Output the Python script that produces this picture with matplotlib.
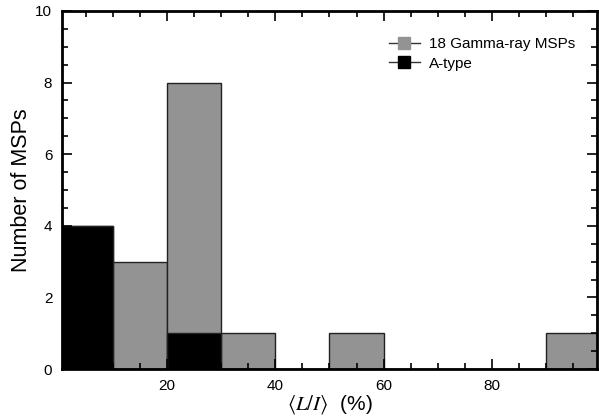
import matplotlib
matplotlib.use('Agg')
import matplotlib.pyplot as plt
from matplotlib.lines import Line2D
from matplotlib.ticker import MultipleLocator

# histogram data (bins of width 10 in <L/I> %)
bin_left = [0, 10, 20, 30, 40, 50, 60, 70, 80, 90]
gamma_counts = [4, 3, 8, 1, 0, 1, 0, 0, 0, 1]
atype_counts = [4, 0, 1, 0, 0, 0, 0, 0, 0, 0]
labels = ['18 Gamma-ray MSPs', 'A-type']

plt.rcParams['font.family'] = ['Liberation Sans', 'DejaVu Sans']
plt.rcParams['mathtext.fontset'] = 'stix'

fig = plt.figure(figsize=(5.99, 4.19), dpi=100)
ax = fig.add_axes([0.1035, 0.119, 0.893, 0.855])

gray = '#939393'
ax.bar(bin_left, gamma_counts, width=10, align='edge', color=gray, edgecolor='#222222', linewidth=1.0)
ax.bar(bin_left, atype_counts, width=10, align='edge', color='black', edgecolor='#222222', linewidth=1.0)

ax.set_xlim(0.6, 99.4)
ax.set_ylim(0, 10)
ax.xaxis.set_major_locator(MultipleLocator(20))
ax.xaxis.set_minor_locator(MultipleLocator(5))
ax.yaxis.set_major_locator(MultipleLocator(2))
ax.yaxis.set_minor_locator(MultipleLocator(0.5))
ax.tick_params(which='both', direction='in', top=True, right=True, labelsize=11, width=1.2)
ax.tick_params(which='major', length=7)
ax.tick_params(which='minor', length=4)
ax.tick_params(axis='x', pad=7)
ax.tick_params(axis='y', pad=7)
for s in ax.spines.values():
    s.set_linewidth(2)

ax.set_ylabel('Number of MSPs', fontsize=15.5, labelpad=2)
ax.set_xlabel(r'$\langle L/I\rangle$  (%)', fontsize=15, labelpad=0)

handles = [
    Line2D([], [], color='#333333', lw=1, marker='s', markersize=8,
           markerfacecolor=gray, markeredgecolor=gray),
    Line2D([], [], color='#333333', lw=1, marker='s', markersize=8,
           markerfacecolor='black', markeredgecolor='black'),
]
ax.legend(handles, labels, loc='upper right', frameon=False, fontsize=11,
          bbox_to_anchor=(0.985, 0.965), handlelength=2.0, handletextpad=0.6,
          labelspacing=0.35)

fig.savefig('out.png', dpi=100)
